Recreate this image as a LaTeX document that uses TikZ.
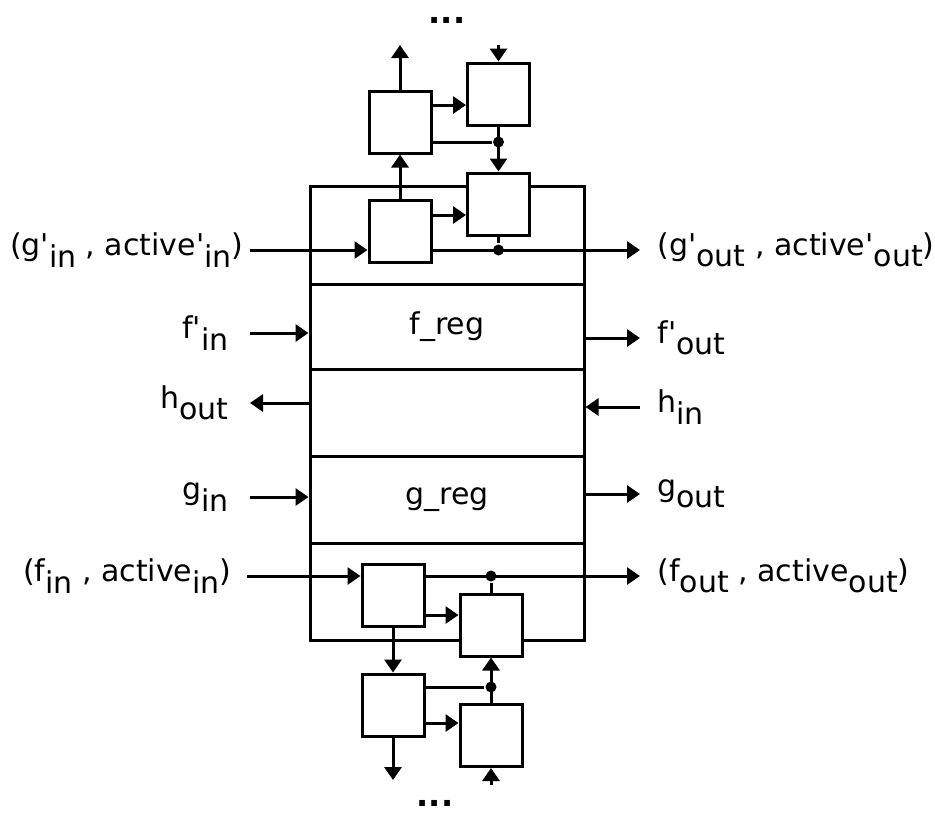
\documentclass[tikz,border=0pt]{standalone}
\usepackage{fontspec}
\setmainfont{DejaVu Sans}
\usetikzlibrary{arrows.meta}
\newcommand\lo[1]{\raisebox{-0.38em}{#1}}
\newcommand\pr{\textquotesingle}

\begin{document}
\begin{tikzpicture}[
        x=0.5pt, y=-0.5pt,
        line width=1.5pt,
        cell/.style = {
            draw, fill=white, minimum width=31pt, minimum height=31pt, inner sep=0pt
        },
        band/.style = {
            draw, minimum width=137pt, inner sep=0pt,
            font=\fontsize{15}{18}\selectfont
        },
        sig/.style = {
            -{Triangle[length=6.5pt,width=8.5pt]}
        },
        lbl/.style = {
            font=\fontsize{15}{18}\selectfont, inner ysep=2pt
        },
        tap/.style = {
            fill, circle, inner sep=0pt, minimum size=5.5pt
        },
        more/.style = {
            font=\bfseries\fontsize{16}{16}\selectfont, inner sep=0pt
        },
        ]
    \useasboundingbox (0,0) rectangle (935,816);

    % frame with the two registers
    \node[draw, minimum width=137pt, minimum height=227pt] (frame) at (447,413) {};
    \node[band, minimum height=42.5pt] (freg) at (447,326.5) {f\_reg};
    \node[band, minimum height=43.5pt] (greg) at (447,499.5) {g\_reg};

    % upper cells
    \node[cell] (A) at (400,122) {};
    \node[cell] (B) at (498.5,94) {};
    \node[cell] (C) at (400,231) {};
    \node[cell] (D) at (498.5,204) {};

    % lower cells
    \node[cell] (E) at (393,595) {};
    \node[cell] (F) at (491,625) {};
    \node[cell] (G) at (393,705) {};
    \node[cell] (H) at (491,735.5) {};

    \coordinate (upout) at (400,45);
    \coordinate (upin) at (498.5,45);
    \coordinate (downout) at (393,780);
    \coordinate (downin) at (491,785);

    \node[more] (moreN) at (447,20) {...};
    \node[more] (moreS) at (435,803) {...};

    % left labels
    \node[lbl, anchor=east, inner xsep=2.5pt] (gpin) at (250,250) {(g\pr\lo{in} , active\pr\lo{in})};
    \node[lbl, anchor=east, inner xsep=10pt] (fpin) at (250,333) {f\pr\lo{in}};
    \node[lbl, anchor=east, inner xsep=10pt] (hout) at (250,403) {h\lo{out}};
    \node[lbl, anchor=east, inner xsep=10pt] (gin) at (250,497) {g\lo{in}};
    \node[lbl, anchor=east, inner xsep=7pt] (fin) at (247,576) {(f\lo{in} , active\lo{in})};

    % right labels
    \node[lbl, anchor=west, inner xsep=8pt] (gpout) at (640,250) {(g\pr\lo{out} , active\pr\lo{out})};
    \node[lbl, anchor=west, inner xsep=8pt] (fpout) at (640,338) {f\pr\lo{out}};
    \node[lbl, anchor=west, inner xsep=8pt] (hin) at (640,407) {h\lo{in}};
    \node[lbl, anchor=west, inner xsep=8pt] (gout) at (640,494) {g\lo{out}};
    \node[lbl, anchor=west, inner xsep=8pt] (fout) at (640,576) {(f\lo{out} , active\lo{out})};

    % register ports
    \draw[sig] (fpin.east) -- (fpin.east -| frame.west);
    \draw[sig] (hout.east -| frame.west) -- (hout.east);
    \draw[sig] (gin.east) -- (gin.east -| frame.west);
    \draw[sig] (fpout.west -| frame.east) -- (fpout.west);
    \draw[sig] (hin.west) -- (hin.west -| frame.east);
    \draw[sig] (gout.west -| frame.east) -- (gout.west);

    % upper wiring
    \node[tap] (jab) at ([yshift=-10pt]A.east -| B.south) {};
    \node[tap] (jcd) at ([yshift=-9.5pt]C.east -| D.south) {};
    \draw[sig] (A.north) -- (upout);
    \draw[sig] (upin) -- (B.north);
    \draw[sig] ([yshift=8.5pt]A.east) -- ([yshift=8.5pt]A.east -| B.west);
    \draw ([yshift=-10pt]A.east) -- (jab);
    \draw[sig] (B.south) -- (D.north);
    \draw[sig] (C.north) -- (A.south);
    \draw[sig] ([yshift=8pt]C.east) -- ([yshift=8pt]C.east -| D.west);
    \draw[sig] (gpin.east) -- (gpin.east -| C.west);
    \draw[sig] ([yshift=-9.5pt]C.east) -- (gpout.west);
    \draw (D.south) -- (jcd);

    % lower wiring
    \node[tap] (jef) at ([yshift=9.5pt]E.east -| F.north) {};
    \node[tap] (jgh) at ([yshift=9pt]G.east -| H.north) {};
    \draw[sig] (fin.east) -- (fin.east -| E.west);
    \draw[sig] ([yshift=9.5pt]E.east) -- (fout.west);
    \draw (F.north) -- (jef);
    \draw[sig] ([yshift=-10pt]E.east) -- ([yshift=-10pt]E.east -| F.west);
    \draw[sig] (E.south) -- (G.north);
    \draw ([yshift=9pt]G.east) -- (jgh);
    \draw[sig] (H.north) -- (F.south);
    \draw[sig] ([yshift=-9pt]G.east) -- ([yshift=-9pt]G.east -| H.west);
    \draw[sig] (G.south) -- (downout);
    \draw[sig] (downin) -- (H.south);
\end{tikzpicture}
\end{document}
